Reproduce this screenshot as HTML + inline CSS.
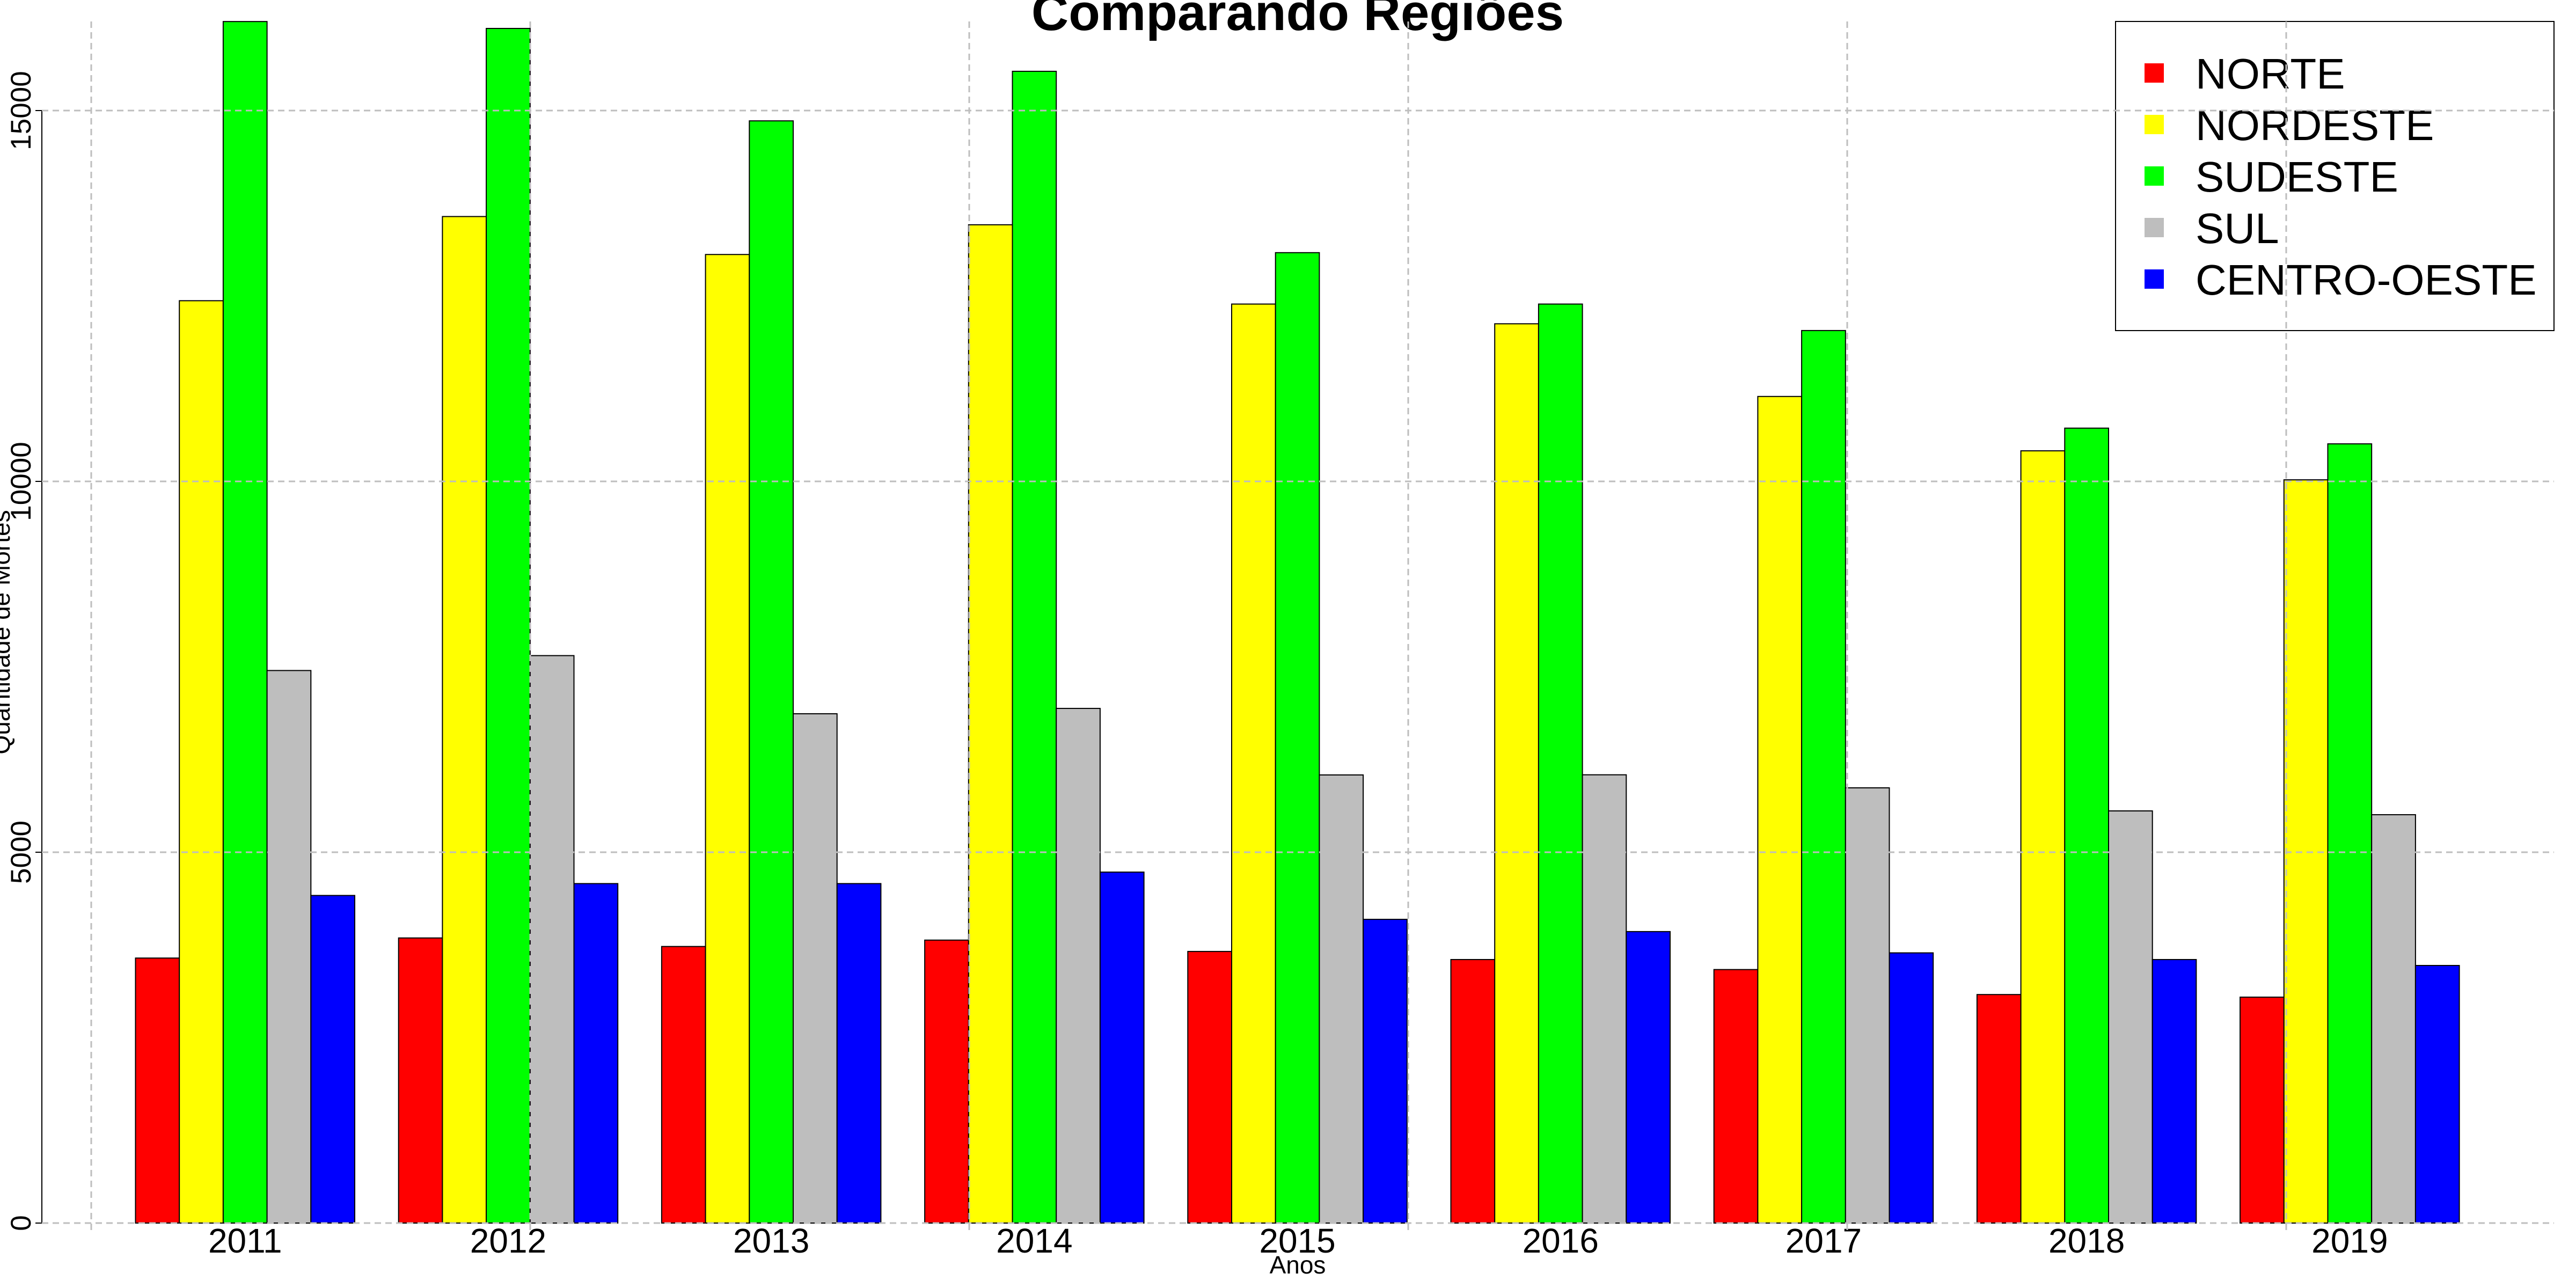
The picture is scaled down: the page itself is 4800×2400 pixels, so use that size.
<!DOCTYPE html>
<html><head><meta charset="utf-8"><title>Comparando Regiões</title>
<style>html,body{margin:0;padding:0;background:#fff}svg{display:block}text{font-family:"Liberation Sans",Arial,sans-serif}</style>
</head><body>
<svg id="chart" width="4800" height="2400" viewBox="0 0 4800 2400" xmlns="http://www.w3.org/2000/svg">
<g id="bars"></g>
<g id="axes"></g>
<g id="legend"></g>
<g id="grid"></g>
</svg>
<script>
const years = ["2011","2012","2013","2014","2015","2016","2017","2018","2019"];
const seriesNames = ["NORTE","NORDESTE","SUDESTE","SUL","CENTRO-OESTE"];
const seriesColors = ["#ff0000","#ffff00","#00ff00","#bebebe","#0000ff"];
const norte = [3573,3844,3729,3815,3662,3553,3418,3081,3046];
const nordeste = [12436,13571,13059,13460,12391,12125,11145,10412,10021];
const sudeste = [16200,16107,14861,15529,13084,12391,12034,10718,10506];
const sul = [7450,7651,6867,6939,6042,6044,5868,5557,5506];
const centroOeste = [4417,4577,4577,4732,4095,3930,3643,3553,3473];
const yTicks = [0,5000,10000,15000];
const series = [norte,nordeste,sudeste,sul,centroOeste];

const NS="http://www.w3.org/2000/svg";
const Y0=2279, PX_PER=691/5000;
function yScale(v){return Y0 - v*PX_PER;}
const UNIT=81.7, GROUP=490.2, X0=252.5;
function xBar(g,s){return X0 + g*GROUP + s*UNIT;}
function groupCenter(g){return X0 + g*GROUP + 2.5*UNIT;}
function mk(tag,attrs,parent){const e=document.createElementNS(NS,tag);for(const k in attrs)e.setAttribute(k,attrs[k]);parent.appendChild(e);return e;}

const bars=document.getElementById('bars');
series.forEach((vals,s)=>{
  vals.forEach((v,g)=>{
    const r=mk('rect',{x:xBar(g,s),y:yScale(v),width:UNIT,height:Y0-yScale(v),fill:seriesColors[s],stroke:'#000','stroke-width':2},bars);
    
    
  });
});

const axes=document.getElementById('axes');
const yl=mk('line',{x1:78,x2:78,y1:yScale(0),y2:yScale(15000),stroke:'#000','stroke-width':2},axes);


yTicks.forEach(t=>{
  const tk=mk('line',{x1:66,x2:78,y1:yScale(t),y2:yScale(t),stroke:'#000','stroke-width':2},axes);
  
  
  const tx=mk('text',{x:0,y:0,'font-size':53,'text-anchor':'middle',transform:`translate(57,${yScale(t)}) rotate(-90)`},axes);
  tx.textContent=t;
  
  
});
years.forEach((yr,g)=>{
  const tx=mk('text',{x:groupCenter(g),y:2334,'font-size':64,'text-anchor':'middle'},axes);
  tx.textContent=yr;
  
  
});
const xt=mk('text',{x:2418,y:2373,'font-size':46,'text-anchor':'middle'},axes);
xt.textContent='Anos';


const yt=mk('text',{x:0,y:0,'font-size':46,'text-anchor':'middle',transform:'translate(18,1178) rotate(-90)'},axes);
yt.textContent='Quantidade de Mortes';


const tt=mk('text',{x:2418,y:56,'font-size':96,'font-weight':'bold','text-anchor':'middle'},axes);
tt.textContent='Comparando Regiões';



const leg=document.getElementById('legend');
const box=mk('rect',{x:3942,y:40,width:817,height:576,fill:'none',stroke:'#000','stroke-width':2},leg);


seriesNames.forEach((n,i)=>{
  const cy=136+i*96;
  const sw=mk('rect',{x:3996,y:cy-18,width:36,height:36,fill:seriesColors[i]},leg);
  
  
  const tx=mk('text',{x:4091,y:cy+29,'font-size':80},leg);
  tx.textContent=n;
  
  
});

const grid=document.getElementById('grid');
yTicks.forEach(t=>{
  const l=mk('line',{x1:78,x2:4759,y1:yScale(t),y2:yScale(t),stroke:'#bebebe','stroke-width':3,'stroke-dasharray':'12 8'},grid);
  
  
});
for(let i=0;i<6;i++){
  const x=170+i*818;
  const l=mk('line',{x1:x,x2:x,y1:40,y2:2294,stroke:'#bebebe','stroke-width':3,'stroke-dasharray':'12 8'},grid);
  
  
}
</script>
</body></html>
